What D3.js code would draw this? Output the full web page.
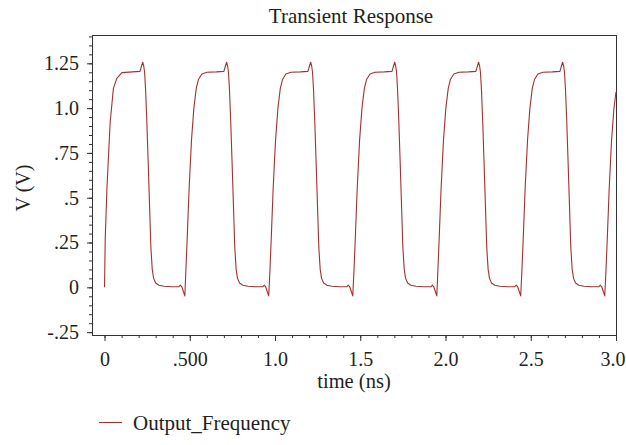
<!DOCTYPE html>
<html>
<head>
<meta charset="utf-8">
<script src="https://cdn.jsdelivr.net/npm/d3@7"></script>
<style>
  body { margin: 0; background: #fff; }
  svg text { font-family: "Liberation Serif", "DejaVu Serif", serif; fill: #231f20; }
  .trace { fill: none; stroke: #a5302f; stroke-width: 1.1; stroke-linejoin: round; }
  .frame { fill: none; stroke: #333; stroke-width: 1; }
  .axis path { display: none; }
  .axis line { stroke: #333; }
</style>
</head>
<body>
<div id="chart"></div>
<script>
// title / labels
var chartTitle = "Transient Response";
var xLabel = "time (ns)";
var yLabel = "V (V)";
var seriesName = "Output_Frequency";

// axis ticks and their labels
var xTicks = [0, 0.5, 1.0, 1.5, 2.0, 2.5, 3.0];
var xTickLabels = ["0", ".500", "1.0", "1.5", "2.0", "2.5", "3.0"];
var yTicks = [-0.25, 0, 0.25, 0.5, 0.75, 1.0, 1.25];
var yTickLabels = ["-.25", "0", ".25", ".5", ".75", "1.0", "1.25"];

// trace: time in ns
var timeNs = [
    0.000, 0.004, 0.014, 0.033, 0.052, 0.072, 0.102, 0.164, 0.208, 0.216, 0.224, 0.230, 0.235, 0.241, 0.248, 0.256,
    0.264, 0.272, 0.280, 0.288, 0.300, 0.319, 0.349, 0.394, 0.436, 0.445, 0.453, 0.462, 0.471,
    0.477, 0.486, 0.496, 0.510, 0.524, 0.538, 0.551, 0.571, 0.601, 0.656, 0.700, 0.708, 0.716, 0.722, 0.727, 0.733,
    0.740, 0.748, 0.756, 0.764, 0.772, 0.780, 0.792, 0.811, 0.841, 0.886, 0.928, 0.937, 0.945, 0.954, 0.963,
    0.970, 0.979, 0.989, 1.003, 1.017, 1.031, 1.044, 1.064, 1.094, 1.149, 1.193, 1.201, 1.209, 1.215, 1.220, 1.226,
    1.233, 1.241, 1.249, 1.257, 1.265, 1.273, 1.285, 1.304, 1.334, 1.379, 1.421, 1.430, 1.438, 1.447, 1.456,
    1.463, 1.472, 1.482, 1.496, 1.510, 1.524, 1.537, 1.557, 1.587, 1.642, 1.686, 1.694, 1.702, 1.708, 1.713, 1.719,
    1.726, 1.734, 1.742, 1.750, 1.758, 1.766, 1.778, 1.797, 1.827, 1.872, 1.914, 1.923, 1.931, 1.940, 1.949,
    1.955, 1.964, 1.974, 1.988, 2.002, 2.016, 2.029, 2.049, 2.079, 2.134, 2.178, 2.186, 2.194, 2.200, 2.205, 2.211,
    2.218, 2.226, 2.234, 2.242, 2.250, 2.258, 2.270, 2.289, 2.319, 2.364, 2.406, 2.415, 2.423, 2.432, 2.441,
    2.448, 2.457, 2.467, 2.481, 2.495, 2.509, 2.522, 2.542, 2.572, 2.627, 2.671, 2.679, 2.687, 2.693, 2.698, 2.704,
    2.711, 2.719, 2.727, 2.735, 2.743, 2.751, 2.763, 2.782, 2.812, 2.857, 2.899, 2.908, 2.916, 2.925, 2.934,
    2.941, 2.950, 2.960, 2.974, 2.988, 3.000
];

// voltage in V, same order
var voltage = [
    0.000, 0.270, 0.550, 0.920, 1.110, 1.166, 1.198, 1.202, 1.205, 1.232, 1.256, 1.235, 1.200, 1.100, 0.930, 0.700,
    0.460, 0.220, 0.100, 0.050, 0.024, 0.012, 0.006, 0.003, 0.003, 0.012, 0.003, -0.022, -0.048,
    0.090, 0.300, 0.550, 0.820, 1.000, 1.110, 1.160, 1.190, 1.200, 1.202, 1.205, 1.232, 1.256, 1.235, 1.200, 1.100,
    0.930, 0.700, 0.460, 0.220, 0.100, 0.050, 0.024, 0.012, 0.006, 0.003, 0.003, 0.012, 0.003, -0.022, -0.048,
    0.090, 0.300, 0.550, 0.820, 1.000, 1.110, 1.160, 1.190, 1.200, 1.202, 1.205, 1.232, 1.256, 1.235, 1.200, 1.100,
    0.930, 0.700, 0.460, 0.220, 0.100, 0.050, 0.024, 0.012, 0.006, 0.003, 0.003, 0.012, 0.003, -0.022, -0.048,
    0.090, 0.300, 0.550, 0.820, 1.000, 1.110, 1.160, 1.190, 1.200, 1.202, 1.205, 1.232, 1.256, 1.235, 1.200, 1.100,
    0.930, 0.700, 0.460, 0.220, 0.100, 0.050, 0.024, 0.012, 0.006, 0.003, 0.003, 0.012, 0.003, -0.022, -0.048,
    0.090, 0.300, 0.550, 0.820, 1.000, 1.110, 1.160, 1.190, 1.200, 1.202, 1.205, 1.232, 1.256, 1.235, 1.200, 1.100,
    0.930, 0.700, 0.460, 0.220, 0.100, 0.050, 0.024, 0.012, 0.006, 0.003, 0.003, 0.012, 0.003, -0.022, -0.048,
    0.090, 0.300, 0.550, 0.820, 1.000, 1.110, 1.160, 1.190, 1.200, 1.202, 1.205, 1.232, 1.256, 1.235, 1.200, 1.100,
    0.930, 0.700, 0.460, 0.220, 0.100, 0.050, 0.024, 0.012, 0.006, 0.003, 0.003, 0.012, 0.003, -0.022, -0.048,
    0.090, 0.300, 0.550, 0.820, 1.000, 1.090
];

function init() {
    var dataset = timeNs.map(function(t, i) {
        return { time: t, v: voltage[i] };
    });
    transientChart(dataset);
}

function transientChart(dataset) {

    //sizes
    var w = 626;
    var h = 445;
    var left = 92, right = 616, top = 35, bottom = 335;
    var fs = "20px";

    var xScale = d3.scaleLinear()
        .domain([-0.0735, 3.0])
        .range([left, right]);

    var yScale = d3.scaleLinear()
        .domain([-0.266, 1.408])
        .range([bottom, top]);

    var line = d3.line()
        .x(function(d) { return xScale(d.time); })
        .y(function(d) { return yScale(d.v); });

    var svg = d3.select("#chart").append("svg").attr("width", w).attr("height", h);

    // title
    svg.append("text")
        .attr("x", 351)
        .attr("y", 23)
        .attr("text-anchor", "middle")
        .style("font-size", "21px")
        .text(chartTitle);

    // minor ticks
    var xMinor = d3.axisBottom(xScale)
        .tickValues(d3.range(0, 3.001, 0.1))
        .tickSize(3)
        .tickFormat("");
    svg.append("g").attr("class", "axis")
        .attr("transform", "translate(0," + bottom + ")")
        .call(xMinor);

    var yMinor = d3.axisLeft(yScale)
        .tickValues(d3.range(-0.25, 1.401, 0.05))
        .tickSize(3)
        .tickFormat("");
    svg.append("g").attr("class", "axis")
        .attr("transform", "translate(" + left + ",0)")
        .call(yMinor);

    // major ticks
    var xAxis = d3.axisBottom(xScale)
        .tickValues(xTicks)
        .tickSize(6)
        .tickPadding(11)
        .tickFormat(function(d, i) { return xTickLabels[i]; });
    var gx = svg.append("g").attr("class", "axis")
        .attr("transform", "translate(0," + bottom + ")")
        .call(xAxis);
    gx.selectAll("text")
        .attr("fill", "#231f20")
        .style("font-size", fs);
    // last label pulled inside the window edge
    gx.selectAll("text")
        .filter(function(d) { return d === 3.0; })
        .attr("text-anchor", "end")
        .attr("x", 9);

    var yAxis = d3.axisLeft(yScale)
        .tickValues(yTicks)
        .tickSize(5)
        .tickPadding(8)
        .tickFormat(function(d, i) { return yTickLabels[i]; });
    svg.append("g").attr("class", "axis")
        .attr("transform", "translate(" + left + ",0)")
        .call(yAxis)
        .selectAll("text")
        .attr("fill", "#231f20")
        .style("font-size", fs);

    // frame
    svg.append("rect")
        .attr("class", "frame")
        .attr("x", left + 0.5)
        .attr("y", top + 0.5)
        .attr("width", right - left)
        .attr("height", bottom - top);

    // trace
    svg.append("path").datum(dataset).attr("class", "trace").attr("d", line);

    // axis titles
    svg.append("text")
        .attr("x", (left + right) / 2)
        .attr("y", 388)
        .attr("text-anchor", "middle")
        .style("font-size", "20.5px")
        .text(xLabel);

    svg.append("text")
        .attr("transform", "translate(30," + 188 + ") rotate(-90)")
        .attr("text-anchor", "middle")
        .style("font-size", fs)
        .text(yLabel);

    // legend
    svg.append("line")
        .attr("x1", 99)
        .attr("x2", 122)
        .attr("y1", 422.5)
        .attr("y2", 422.5)
        .attr("stroke", "#a5302f")
        .attr("stroke-width", 1.1);

    svg.append("text")
        .attr("x", 133)
        .attr("y", 429.5)
        .style("font-size", "21px")
        .text(seriesName);
}

window.onload = init;
</script>
</body>
</html>
